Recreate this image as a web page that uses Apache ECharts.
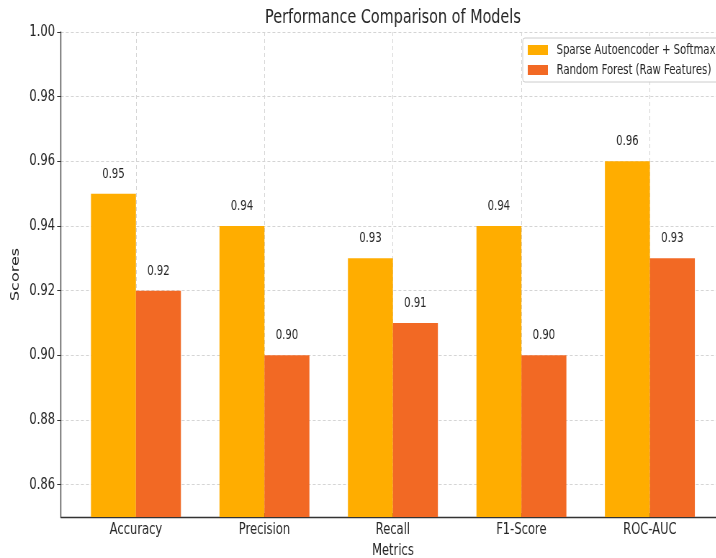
<!DOCTYPE html>
<html>
<head>
<meta charset="utf-8">
<script src="https://cdn.jsdelivr.net/npm/echarts@6/dist/echarts.min.js"></script>
<style>
  html, body { margin: 0; padding: 0; background: #fff; overflow: hidden; }
  #wrap { width: 716px; height: 558px; overflow: hidden; position: relative; }
  /* the figure is drawn wide and then narrowed horizontally; its right edge runs past the frame */
  #chart { width: 1007px; height: 558px; transform: scaleX(0.72); transform-origin: 0 0; }
</style>
</head>
<body>
<div id="wrap"><div id="chart"></div></div>
<script>
const categories = ['Accuracy', 'Precision', 'Recall', 'F1-Score', 'ROC-AUC'];
const sparseAutoencoder = [0.95, 0.94, 0.93, 0.94, 0.96];
const randomForest = [0.92, 0.90, 0.91, 0.90, 0.93];
const seriesNames = ['Sparse Autoencoder + Softmax', 'Random Forest (Raw Features)'];
const colors = ['#FFAD00', '#F26924'];

// grouped bars: each bar is 0.35 category units wide, placed either side of the tick
const barUnits = 0.35;
const pad = 0.05 * ((categories.length - 1) + 2 * barUnits);
const xMin = -barUnits - pad;
const xMax = (categories.length - 1) + barUnits + pad;

const W = 1007, gridLeft = 84.4, gridRight = 0;
const plotWidth = W - gridLeft - gridRight;
const barPx = barUnits * plotWidth / (xMax - xMin);

const font = 'DejaVu Sans';
const ink = '#262626';

function seriesData(values, side) {
  return values.map((v, i) => [i + side * barUnits / 2, v]);
}

function barSeries(idx, values, side) {
  return {
    name: seriesNames[idx],
    type: 'bar',
    data: seriesData(values, side),
    barWidth: barPx,
    barGap: '-100%',
    itemStyle: { color: colors[idx] },
    label: {
      show: true,
      position: 'top',
      distance: 12.5,
      formatter: p => p.value[1].toFixed(2),
      fontFamily: font,
      fontSize: 14,
      color: ink
    }
  };
}

const chart = echarts.init(document.getElementById('chart'), null, { renderer: 'canvas' });
chart.setOption({
  animation: false,
  backgroundColor: '#fff',
  title: {
    text: 'Performance Comparison of Models',
    left: gridLeft + plotWidth / 2,
    textAlign: 'center',
    top: 8,
    padding: 0,
    textStyle: { fontFamily: font, fontSize: 20, fontWeight: 'normal', color: ink }
  },
  legend: {
    orient: 'vertical',
    left: 726,
    top: 38,
    padding: [5, 7, 5, 7],
    itemWidth: 28,
    itemHeight: 10,
    itemGap: 6,
    icon: 'rect',
    borderColor: '#cccccc',
    borderWidth: 1,
    borderRadius: 3,
    backgroundColor: 'rgba(255,255,255,0.85)',
    textStyle: { fontFamily: font, fontSize: 14, color: ink, padding: [0, 0, 0, 7] },
    data: seriesNames
  },
  grid: {
    left: gridLeft, right: gridRight, top: 32, bottom: 41,
    containLabel: false,
    outerBoundsMode: 'none'
  },
  xAxis: {
    type: 'value',
    min: xMin,
    max: xMax,
    name: 'Metrics',
    nameLocation: 'middle',
    nameGap: 24,
    nameTextStyle: { fontFamily: font, fontSize: 16, color: ink },
    axisLine: { show: true, onZero: false, lineStyle: { color: '#333', width: 1.3 } },
    axisTick: { show: true, inside: true, length: 4, lineStyle: { color: '#333' } },
    axisLabel: {
      margin: 5,
      fontFamily: font,
      fontSize: 16,
      color: ink,
      showMinLabel: false,
      showMaxLabel: false,
      formatter: v => (Number.isInteger(v) && categories[v] !== undefined) ? categories[v] : ''
    },
    splitLine: { show: true, lineStyle: { color: '#d4d4d4', type: [4, 3], width: 1 } }
  },
  yAxis: {
    type: 'value',
    min: 0.85,
    max: 1.0,
    splitNumber: 8,
    name: 'Scores',
    nameLocation: 'middle',
    nameGap: 42,
    nameTextStyle: { fontFamily: font, fontSize: 16, color: ink },
    axisLine: { show: true, onZero: false, lineStyle: { color: '#333', width: 1.3 } },
    axisTick: { show: true, length: 5, lineStyle: { color: '#333' } },
    axisLabel: {
      margin: 8,
      fontFamily: font,
      fontSize: 16,
      color: ink,
      showMinLabel: false,
      formatter: v => v.toFixed(2)
    },
    splitLine: { show: true, lineStyle: { color: '#d4d4d4', type: [4, 3], width: 1 } }
  },
  series: [
    barSeries(0, sparseAutoencoder, -1),
    barSeries(1, randomForest, 1)
  ]
});
</script>
</body>
</html>
